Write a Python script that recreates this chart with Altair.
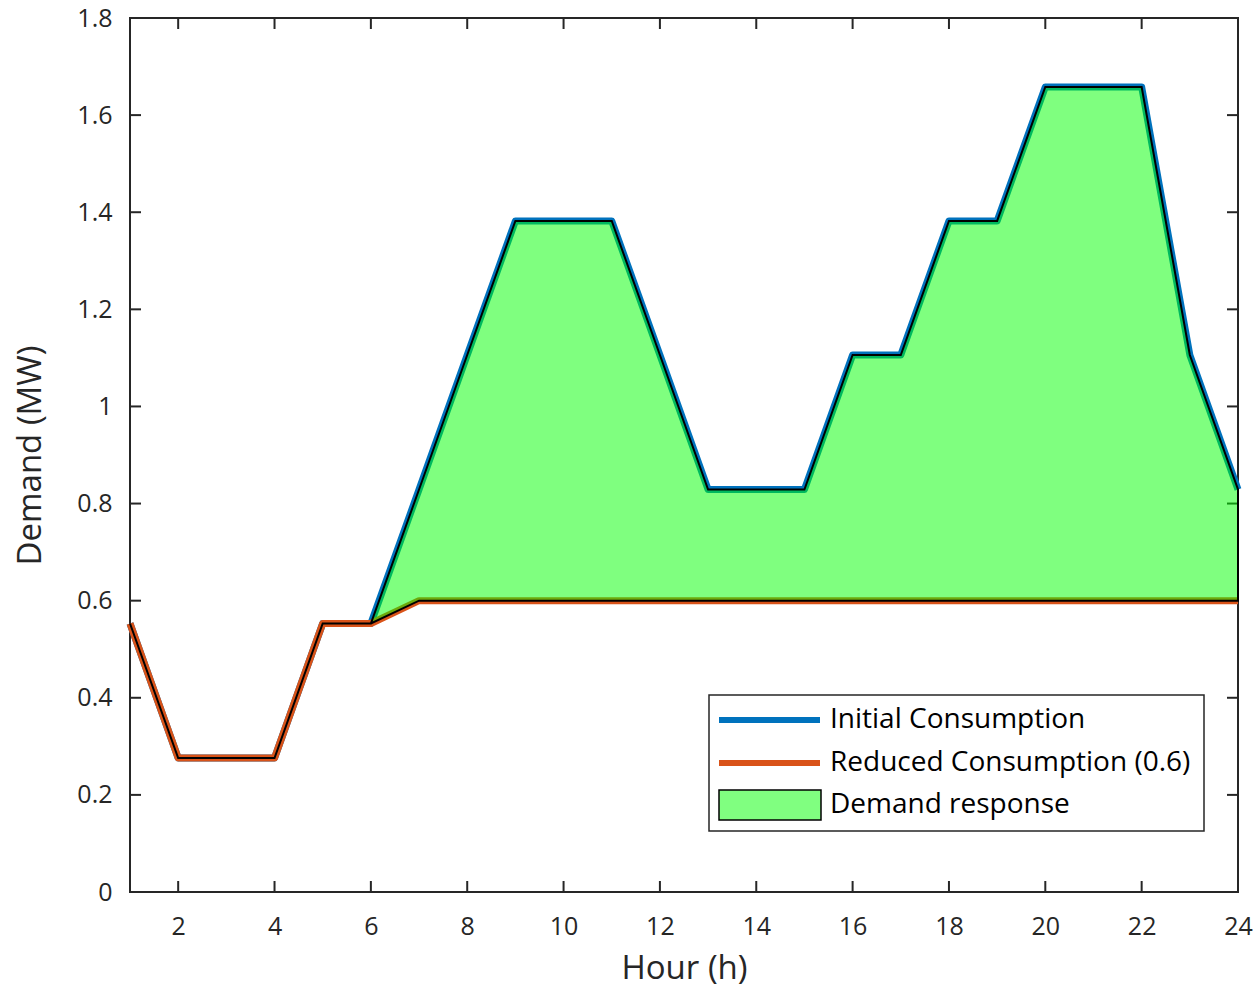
import altair as alt
import pandas as pd

# Hourly demand profile (MW)
hours = [1, 2, 3, 4, 5, 6, 7, 8, 9, 10, 11, 12,
         13, 14, 15, 16, 17, 18, 19, 20, 21, 22, 23, 24]
initial = [0.553, 0.276, 0.276, 0.276, 0.553, 0.553, 0.829, 1.106, 1.382, 1.382, 1.382, 1.106,
           0.829, 0.829, 0.829, 1.106, 1.106, 1.382, 1.382, 1.658, 1.658, 1.658, 1.106, 0.829]
reduced = [0.553, 0.276, 0.276, 0.276, 0.553, 0.553, 0.6, 0.6, 0.6, 0.6, 0.6, 0.6,
           0.6, 0.6, 0.6, 0.6, 0.6, 0.6, 0.6, 0.6, 0.6, 0.6, 0.6, 0.6]

x_ticks = [2, 4, 6, 8, 10, 12, 14, 16, 18, 20, 22, 24]
y_ticks = [0, 0.2, 0.4, 0.6, 0.8, 1.0, 1.2, 1.4, 1.6, 1.8]
legend_labels = ["Initial Consumption", "Reduced Consumption (0.6)", "Demand response"]

BLUE = "#0072BD"
ORANGE = "#D95319"
AXIS = "#262626"
FONT = "Open Sans"
W, H = 1108, 874
TICK = 11

df = pd.DataFrame({"hour": hours, "initial": initial, "reduced": reduced})
xt = pd.DataFrame({"t": x_ticks})
yt = pd.DataFrame({"t": y_ticks})

xscale = alt.Scale(domain=[1, 24], nice=False, zero=False)
yscale = alt.Scale(domain=[0, 1.8], nice=False, zero=True)

x_axis = alt.Axis(values=x_ticks, ticks=False, domain=False, grid=False, labelFlush=False,
                  labelFont=FONT, labelFontSize=25, labelColor=AXIS, labelPadding=22,
                  title="Hour (h)", titleFont=FONT, titleFontSize=33, titleFontWeight="normal",
                  titleColor=AXIS, titleX=W / 2, titleY=76, titleBaseline="middle")
y_axis = alt.Axis(values=y_ticks, ticks=False, domain=False, grid=False, format=".1~f",
                  labelFlush=False,
                  labelFont=FONT, labelFontSize=25, labelColor=AXIS, labelPadding=18,
                  title="Demand (MW)", titleFont=FONT, titleFontSize=33, titleFontWeight="normal",
                  titleColor=AXIS, titleX=-100, titleY=H / 2, titleAngle=270,
                  titleAlign="center", titleBaseline="middle")

base = alt.Chart(df)

# inward tick marks on all four sides
bottom_ticks = alt.Chart(xt).mark_rule(color=AXIS, strokeWidth=2).encode(
    x=alt.X("t:Q", scale=xscale, axis=x_axis), y=alt.value(H), y2=alt.value(H - TICK))
top_ticks = alt.Chart(xt).mark_rule(color=AXIS, strokeWidth=2).encode(
    x=alt.X("t:Q", scale=xscale), y=alt.value(0), y2=alt.value(TICK))
left_ticks = alt.Chart(yt).mark_rule(color=AXIS, strokeWidth=2).encode(
    y=alt.Y("t:Q", scale=yscale, axis=y_axis), x=alt.value(0), x2=alt.value(TICK))
right_ticks = alt.Chart(yt).mark_rule(color=AXIS, strokeWidth=2).encode(
    y=alt.Y("t:Q", scale=yscale), x=alt.value(W), x2=alt.value(W - TICK))

line_initial = base.mark_line(color=BLUE, strokeWidth=7, strokeJoin="round").encode(
    x=alt.X("hour:Q", scale=xscale), y=alt.Y("initial:Q", scale=yscale))
line_reduced = base.mark_line(color=ORANGE, strokeWidth=7, strokeJoin="round").encode(
    x=alt.X("hour:Q", scale=xscale), y=alt.Y("reduced:Q", scale=yscale))
band = base.mark_area(color="#00FF00", fillOpacity=0.5, stroke="black",
                      strokeWidth=2, strokeOpacity=1).encode(
    x=alt.X("hour:Q", scale=xscale), y=alt.Y("initial:Q", scale=yscale), y2="reduced:Q")

# legend box
def one(i):
    return pd.DataFrame({"label": [legend_labels[i]]})

LX0, LX1, LY0, LY1 = 579, 1074, 677, 813
SX0, SX1, TX = 589, 690, 700
rows = [702, 745, 787]

leg_box = alt.Chart(one(0)).mark_rect(fill="white", stroke=AXIS, strokeWidth=1.5).encode(
    x=alt.value(LX0), x2=alt.value(LX1), y=alt.value(LY0), y2=alt.value(LY1))
leg_l1 = alt.Chart(one(0)).mark_rule(color=BLUE, strokeWidth=6).encode(
    x=alt.value(SX0), x2=alt.value(SX1), y=alt.value(rows[0]))
leg_l2 = alt.Chart(one(1)).mark_rule(color=ORANGE, strokeWidth=6).encode(
    x=alt.value(SX0), x2=alt.value(SX1), y=alt.value(rows[1]))
leg_patch = alt.Chart(one(2)).mark_rect(fill="#80FF80", stroke="black", strokeWidth=1.5).encode(
    x=alt.value(SX0), x2=alt.value(SX1 + 1), y=alt.value(rows[2] - 15), y2=alt.value(rows[2] + 15))
leg_text = [
    alt.Chart(one(i)).mark_text(align="left", baseline="middle", font=FONT,
                                fontSize=28, color="black").encode(
        text="label:N", x=alt.value(TX), y=alt.value(rows[i]))
    for i in range(3)
]

chart = alt.layer(
    bottom_ticks, top_ticks, left_ticks, right_ticks,
    line_initial, line_reduced, band,
    leg_box, leg_l1, leg_l2, leg_patch, *leg_text,
).properties(
    width=W, height=H,
    background="white",
    autosize=alt.AutoSizeParams(type="none"),
    padding={"left": 130, "top": 18, "right": 18, "bottom": 96},
).configure_view(
    stroke=AXIS, strokeWidth=2
)

chart.save("out.html", embed_options={"renderer": "svg", "actions": False})
